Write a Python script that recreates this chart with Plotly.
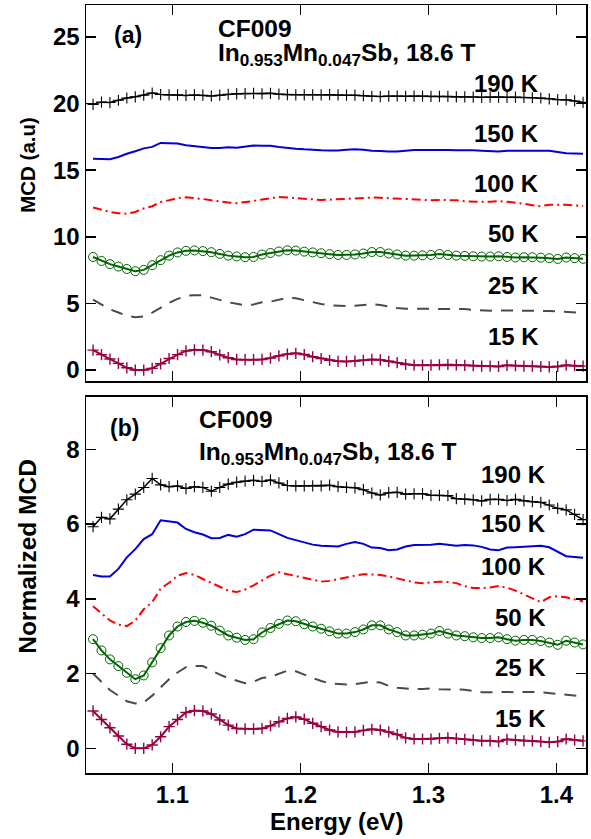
import plotly.graph_objects as go

# Photon energy (eV)
energy = [1.038, 1.0446, 1.0512, 1.0578, 1.0644, 1.071, 1.0776, 1.0842, 1.0908, 1.0974,
          1.104, 1.1106, 1.1172, 1.1238, 1.1304, 1.137, 1.1436, 1.1502, 1.1568, 1.1634,
          1.17, 1.1766, 1.1832, 1.1898, 1.1964, 1.203, 1.2096, 1.2162, 1.2228, 1.2294,
          1.236, 1.2426, 1.2492, 1.2558, 1.2624, 1.269, 1.2756, 1.2822, 1.2888, 1.2954,
          1.302, 1.3086, 1.3152, 1.3218, 1.3284, 1.335, 1.3416, 1.3482, 1.3548, 1.3614,
          1.368, 1.3746, 1.3812, 1.3878, 1.3944, 1.401, 1.4076, 1.4142, 1.4208]

# ---- Panel (a): MCD (a.u), offset curves ----
a_190K = [19.94, 20.11, 20.08, 20.25, 20.42, 20.51, 20.63, 20.79, 20.68, 20.65,
          20.66, 20.61, 20.65, 20.63, 20.57, 20.63, 20.69, 20.73, 20.75, 20.76,
          20.74, 20.77, 20.71, 20.67, 20.66, 20.66, 20.66, 20.66, 20.67, 20.65,
          20.63, 20.63, 20.59, 20.55, 20.53, 20.56, 20.57, 20.55, 20.56, 20.56,
          20.54, 20.54, 20.54, 20.5, 20.5, 20.49, 20.47, 20.49, 20.49, 20.47,
          20.49, 20.46, 20.44, 20.42, 20.36, 20.3, 20.28, 20.2, 20.09]
a_150K = [15.86, 15.82, 15.82, 15.99, 16.24, 16.42, 16.64, 16.75, 17.05, 17.02,
          17.0, 16.87, 16.79, 16.74, 16.66, 16.67, 16.73, 16.69, 16.75, 16.85,
          16.83, 16.83, 16.75, 16.67, 16.62, 16.57, 16.52, 16.5, 16.48, 16.48,
          16.54, 16.58, 16.54, 16.46, 16.45, 16.4, 16.41, 16.48, 16.51, 16.51,
          16.52, 16.54, 16.52, 16.5, 16.51, 16.5, 16.47, 16.41, 16.4, 16.46,
          16.46, 16.47, 16.48, 16.5, 16.46, 16.36, 16.27, 16.25, 16.23]
a_100K = [12.2, 12.04, 11.87, 11.77, 11.74, 11.87, 12.13, 12.3, 12.61, 12.75,
          12.91, 12.97, 12.93, 12.84, 12.74, 12.64, 12.57, 12.53, 12.59, 12.69,
          12.8, 12.91, 12.99, 12.95, 12.9, 12.85, 12.81, 12.77, 12.79, 12.83,
          12.88, 12.91, 12.95, 12.95, 12.93, 12.9, 12.85, 12.8, 12.76, 12.74,
          12.75, 12.77, 12.77, 12.74, 12.67, 12.63, 12.63, 12.64, 12.67, 12.64,
          12.57, 12.48, 12.37, 12.3, 12.41, 12.43, 12.41, 12.36, 12.31]
a_50K = [8.49, 8.19, 7.95, 7.77, 7.59, 7.42, 7.52, 7.87, 8.25, 8.59,
         8.83, 8.95, 8.98, 8.93, 8.85, 8.72, 8.59, 8.53, 8.47, 8.49,
         8.67, 8.79, 8.9, 8.99, 8.97, 8.89, 8.83, 8.77, 8.7, 8.64,
         8.64, 8.68, 8.75, 8.86, 8.86, 8.75, 8.68, 8.59, 8.59, 8.61,
         8.64, 8.71, 8.64, 8.59, 8.57, 8.54, 8.52, 8.52, 8.54, 8.49,
         8.45, 8.47, 8.47, 8.44, 8.4, 8.34, 8.45, 8.4, 8.35]
a_25K = [5.29, 4.93, 4.56, 4.32, 4.07, 3.97, 4.02, 4.32, 4.7, 5.04,
         5.34, 5.57, 5.62, 5.62, 5.44, 5.24, 5.09, 4.98, 4.86, 4.93,
         5.09, 5.14, 5.29, 5.42, 5.39, 5.24, 5.09, 4.96, 4.86, 4.83,
         4.81, 4.83, 4.86, 4.93, 4.89, 4.75, 4.66, 4.61, 4.6, 4.61,
         4.63, 4.6, 4.58, 4.58, 4.58, 4.51, 4.46, 4.46, 4.48, 4.48,
         4.46, 4.48, 4.48, 4.46, 4.43, 4.42, 4.37, 4.32, 4.28]
a_15K = [1.5, 1.16, 0.83, 0.5, 0.17, 0.0, 0.0, 0.13, 0.47, 0.87,
         1.16, 1.44, 1.52, 1.5, 1.38, 1.14, 0.93, 0.8, 0.78, 0.78,
         0.8, 0.9, 1.07, 1.2, 1.26, 1.17, 1.0, 0.87, 0.74, 0.66,
         0.65, 0.67, 0.74, 0.8, 0.77, 0.66, 0.56, 0.42, 0.37, 0.37,
         0.37, 0.4, 0.42, 0.39, 0.36, 0.33, 0.3, 0.3, 0.27, 0.36,
         0.33, 0.3, 0.3, 0.27, 0.24, 0.27, 0.37, 0.33, 0.3]

# ---- Panel (b): normalized MCD ----
b_190K = [5.93, 6.18, 6.14, 6.4, 6.65, 6.8, 6.98, 7.22, 7.05, 7.0,
          7.02, 6.95, 7.0, 6.98, 6.88, 6.98, 7.07, 7.12, 7.15, 7.17,
          7.14, 7.18, 7.1, 7.03, 7.02, 7.02, 7.02, 7.02, 7.04, 7.0,
          6.98, 6.97, 6.92, 6.83, 6.78, 6.84, 6.85, 6.8, 6.81, 6.81,
          6.77, 6.77, 6.76, 6.68, 6.67, 6.65, 6.62, 6.66, 6.66, 6.63,
          6.66, 6.62, 6.6, 6.58, 6.51, 6.42, 6.38, 6.26, 6.12]
b_150K = [4.64, 4.6, 4.6, 4.8, 5.11, 5.33, 5.6, 5.73, 6.1, 6.06,
          6.04, 5.87, 5.78, 5.72, 5.62, 5.63, 5.71, 5.66, 5.73, 5.85,
          5.83, 5.83, 5.73, 5.63, 5.57, 5.51, 5.45, 5.42, 5.4, 5.4,
          5.47, 5.52, 5.47, 5.37, 5.36, 5.3, 5.32, 5.4, 5.44, 5.44,
          5.45, 5.47, 5.45, 5.42, 5.44, 5.43, 5.39, 5.32, 5.3, 5.37,
          5.38, 5.39, 5.4, 5.42, 5.38, 5.26, 5.14, 5.12, 5.1]
b_100K = [3.8, 3.62, 3.42, 3.31, 3.27, 3.42, 3.72, 3.91, 4.27, 4.43,
          4.62, 4.69, 4.64, 4.53, 4.42, 4.31, 4.22, 4.18, 4.25, 4.36,
          4.49, 4.62, 4.71, 4.66, 4.6, 4.55, 4.5, 4.46, 4.48, 4.52,
          4.58, 4.62, 4.66, 4.66, 4.64, 4.6, 4.55, 4.49, 4.44, 4.42,
          4.43, 4.46, 4.45, 4.42, 4.34, 4.29, 4.29, 4.3, 4.34, 4.3,
          4.22, 4.12, 4.0, 3.91, 4.04, 4.07, 4.04, 3.98, 3.93]
b_50K = [2.92, 2.62, 2.38, 2.2, 2.02, 1.85, 1.95, 2.3, 2.68, 3.02,
         3.26, 3.38, 3.41, 3.36, 3.28, 3.15, 3.02, 2.96, 2.9, 2.92,
         3.1, 3.22, 3.33, 3.42, 3.4, 3.32, 3.26, 3.2, 3.13, 3.07,
         3.07, 3.11, 3.18, 3.29, 3.29, 3.18, 3.11, 3.02, 3.02, 3.04,
         3.07, 3.14, 3.07, 3.02, 3.0, 2.97, 2.95, 2.95, 2.97, 2.92,
         2.88, 2.9, 2.9, 2.87, 2.83, 2.77, 2.88, 2.83, 2.78]
b_25K = [2.0, 1.78, 1.56, 1.41, 1.26, 1.2, 1.23, 1.41, 1.64, 1.85,
         2.03, 2.17, 2.2, 2.2, 2.09, 1.97, 1.88, 1.81, 1.74, 1.78,
         1.88, 1.91, 2.0, 2.08, 2.06, 1.97, 1.88, 1.8, 1.74, 1.72,
         1.71, 1.72, 1.74, 1.78, 1.76, 1.67, 1.62, 1.59, 1.58, 1.59,
         1.6, 1.58, 1.57, 1.57, 1.57, 1.53, 1.5, 1.5, 1.51, 1.51,
         1.5, 1.51, 1.51, 1.5, 1.48, 1.47, 1.44, 1.41, 1.39]
b_15K = [1.0, 0.77, 0.55, 0.33, 0.11, 0.0, 0.0, 0.09, 0.31, 0.58,
         0.77, 0.96, 1.01, 1.0, 0.92, 0.76, 0.62, 0.53, 0.52, 0.52,
         0.53, 0.6, 0.71, 0.8, 0.84, 0.78, 0.67, 0.58, 0.49, 0.44,
         0.43, 0.44, 0.48, 0.51, 0.49, 0.44, 0.37, 0.28, 0.25, 0.25,
         0.25, 0.27, 0.28, 0.26, 0.24, 0.22, 0.2, 0.2, 0.18, 0.24,
         0.22, 0.2, 0.2, 0.18, 0.16, 0.18, 0.25, 0.22, 0.2]

temps = ["190 K", "150 K", "100 K", "50 K", "25 K", "15 K"]
label_y_a = [21.48, 17.74, 14.0, 10.25, 6.36, 2.54]
label_y_b = [7.32, 6.01, 4.87, 3.5, 2.15, 0.81]
x_ticks = [1.1, 1.2, 1.3, 1.4]
y_ticks_a = [0, 5, 10, 15, 20, 25]
y_ticks_b = [0, 2, 4, 6, 8]

FONT = "Liberation Sans, Arial, Helvetica, sans-serif"

styles = {
    "190 K": dict(mode="lines+markers", line=dict(color="black", width=1.5),
                  marker=dict(symbol="cross-thin-open", size=8,
                              line=dict(color="black", width=1.1))),
    "150 K": dict(mode="lines", line=dict(color="#0000d8", width=2)),
    "100 K": dict(mode="lines", line=dict(color="#ff0000", width=2, dash="9px,4px,2px,4px")),
    "50 K": dict(mode="lines+markers", line=dict(color="#006400", width=2),
                 marker=dict(symbol="circle-open", size=9,
                             line=dict(color="#1f8a1f", width=1))),
    "25 K": dict(mode="lines", line=dict(color="#4a4a4a", width=2, dash="12px,9px")),
    "15 K": dict(mode="lines+markers", line=dict(color="#990040", width=2),
                 marker=dict(symbol="cross-thin-open", size=8,
                             line=dict(color="#c86a96", width=1.4))),
}

series_a = [a_190K, a_150K, a_100K, a_50K, a_25K, a_15K]
series_b = [b_190K, b_150K, b_100K, b_50K, b_25K, b_15K]

fig = go.Figure()
for t, ya in zip(temps, series_a):
    fig.add_trace(go.Scatter(x=energy, y=ya, xaxis="x", yaxis="y", showlegend=False,
                             name=t, **styles[t]))
for t, yb in zip(temps, series_b):
    fig.add_trace(go.Scatter(x=energy, y=yb, xaxis="x2", yaxis="y2", showlegend=False,
                             name=t, **styles[t]))

axis_common = dict(showline=True, linecolor="black", linewidth=1.5, mirror="ticks",
                   ticks="inside", ticklen=10, tickwidth=1.5, tickcolor="black",
                   showgrid=False, zeroline=False,
                   tickfont=dict(family=FONT, size=24, color="black", weight="bold"))

xr = [1.0325, 1.4231]
fig.update_layout(
    width=591, height=839,
    margin=dict(l=86, r=3, t=3, b=66),
    plot_bgcolor="white", paper_bgcolor="white",
    font=dict(family=FONT, color="black", weight="bold"),
    xaxis=dict(domain=[0, 1], anchor="y", range=xr, tickvals=x_ticks,
               showticklabels=False, **axis_common),
    yaxis=dict(domain=[0.5104, 1.0], anchor="x", range=[-0.82, 27.4],
               tickvals=y_ticks_a, **axis_common),
    xaxis2=dict(domain=[0, 1], anchor="y2", range=xr, tickvals=x_ticks,
                ticktext=[str(v) for v in x_ticks], **axis_common),
    yaxis2=dict(domain=[0.0, 0.4896], anchor="x2", range=[-0.66, 9.4],
                tickvals=y_ticks_b, **axis_common),
)

ann = []
# temperature labels
for t, ya, yb in zip(temps, label_y_a, label_y_b):
    ann.append(dict(x=1.388, y=ya, xref="x", yref="y", text="<b>%s</b>" % t,
                    xanchor="right", yanchor="middle", showarrow=False,
                    font=dict(family=FONT, size=24, color="black")))
    ann.append(dict(x=1.3935, y=yb, xref="x2", yref="y2", text="<b>%s</b>" % t,
                    xanchor="right", yanchor="middle", showarrow=False,
                    font=dict(family=FONT, size=24, color="black")))

title_font = dict(family=FONT, size=24.5, color="black")
formula = "<b>In<sub>0.953</sub>Mn<sub>0.047</sub>Sb, 18.6 T</b>"
ann += [
    dict(x=1.0528, y=25.15, xref="x", yref="y", text="<b>(a)</b>", xanchor="left",
         yanchor="middle", showarrow=False, font=dict(family=FONT, size=23, color="black")),
    dict(x=1.1337, y=25.67, xref="x", yref="y", text="<b>CF009</b>", xanchor="left",
         yanchor="middle", showarrow=False, font=title_font),
    dict(x=1.1337, y=23.7, xref="x", yref="y", text=formula, xanchor="left",
         yanchor="middle", showarrow=False, font=title_font),
    dict(x=1.0497, y=8.57, xref="x2", yref="y2", text="<b>(b)</b>", xanchor="left",
         yanchor="middle", showarrow=False, font=dict(family=FONT, size=23, color="black")),
    dict(x=1.1189, y=8.81, xref="x2", yref="y2", text="<b>CF009</b>", xanchor="left",
         yanchor="middle", showarrow=False, font=title_font),
    dict(x=1.1189, y=7.9, xref="x2", yref="y2", text=formula, xanchor="left",
         yanchor="middle", showarrow=False, font=title_font),
    # axis titles
    dict(x=-86 / 502 + 27 / 502, y=(773 - 163) / 770, xref="paper", yref="paper",
         text="<b>MCD (a.u)</b>", textangle=-90, showarrow=False,
         xanchor="center", yanchor="middle", font=dict(family=FONT, size=20.5, color="black")),
    dict(x=-86 / 502 + 27 / 502, y=(773 - 556) / 770, xref="paper", yref="paper",
         text="<b>Normalized MCD</b>", textangle=-90, showarrow=False,
         xanchor="center", yanchor="middle", font=dict(family=FONT, size=24.5, color="black")),
    dict(x=0.5, y=(773 - 822) / 770, xref="paper", yref="paper",
         text="<b>Energy (eV)</b>", showarrow=False,
         xanchor="center", yanchor="middle", font=dict(family=FONT, size=24, color="black")),
]
fig.update_layout(annotations=ann)

fig.write_html("out.html",
               config={"displayModeBar": False, "staticPlot": True},
               post_script="document.body.style.margin='0px';"
                           "document.body.style.overflow='hidden';")
